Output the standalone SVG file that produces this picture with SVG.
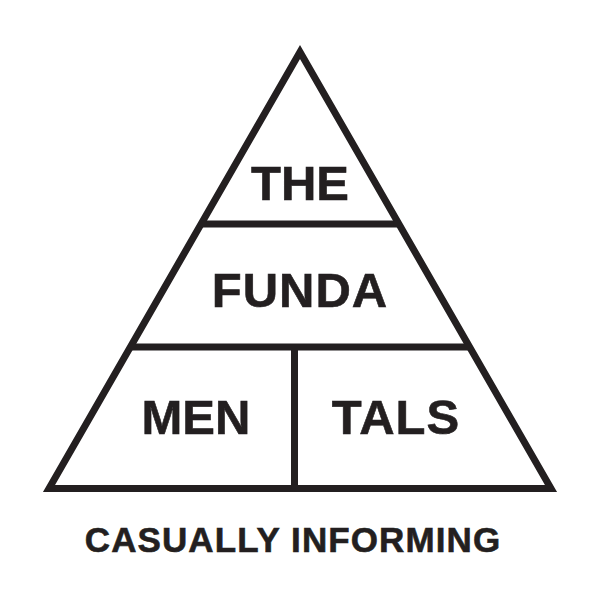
<svg xmlns="http://www.w3.org/2000/svg" width="600" height="600" viewBox="0 0 600 600">
  <style>
    .ln { stroke: #231f20; stroke-width: 7; fill: none; stroke-linejoin: miter; stroke-miterlimit: 10; }
    .lbl { font-family: "Liberation Sans", Arial, sans-serif; font-weight: bold; fill: #231f20; text-anchor: middle; stroke: #231f20; stroke-width: 0.6; }
    .big { font-size: 49px; }
  </style>
  <rect width="600" height="600" fill="#ffffff"/>
  <g id="connectors">
    <polygon class="ln" points="300,52 49,488.5 551,488.5"/>
    <line class="ln" x1="201" y1="224" x2="399" y2="224"/>
    <line class="ln" x1="130" y1="347" x2="470" y2="347"/>
    <line class="ln" x1="294.5" y1="347" x2="294.5" y2="488.5"/>
  </g>
  <g id="node-the">
    <text class="lbl big" x="300" y="200">THE</text>
  </g>
  <g id="node-funda">
    <text class="lbl big" x="300" y="307" letter-spacing="1">FUNDA</text>
  </g>
  <g id="node-men">
    <text class="lbl big" x="196" y="434">MEN</text>
  </g>
  <g id="node-tals">
    <text class="lbl big" x="396" y="434" letter-spacing="1">TALS</text>
  </g>
  <g id="caption">
    <text class="lbl" x="293" y="552" font-size="35" letter-spacing="1.1">CASUALLY INFORMING</text>
  </g>
</svg>
